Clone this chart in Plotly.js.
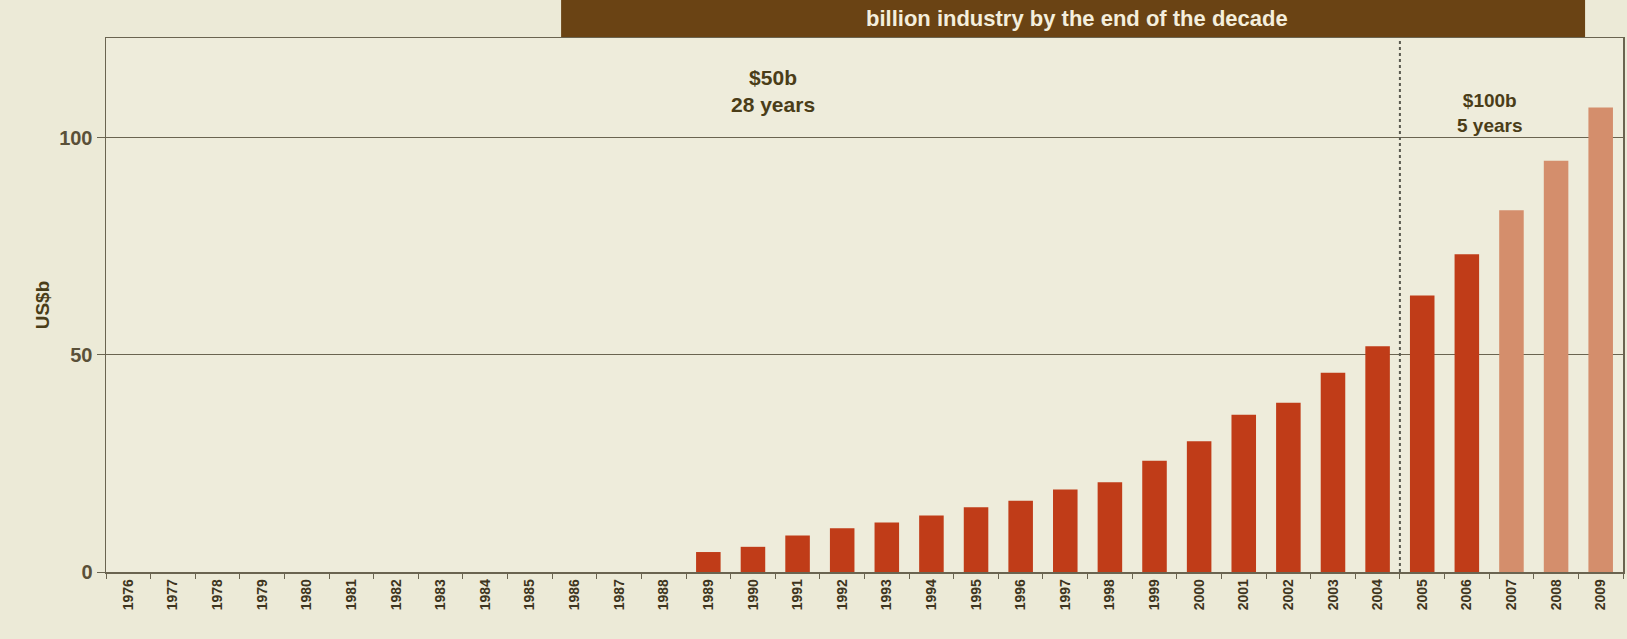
<!DOCTYPE html>
<html>
<head>
<meta charset="utf-8">
<script src="https://cdn.plot.ly/plotly-3.0.1.min.js"></script>
<style>
  html, body { margin: 0; padding: 0; background: #ECEAD7; }
  #chart { width: 1627px; height: 639px; }
</style>
</head>
<body>
<div id="chart"></div>
<script>
// Years on the category axis
const years = ["1976","1977","1978","1979","1980","1981","1982","1983","1984","1985","1986","1987","1988",
  "1989","1990","1991","1992","1993","1994","1995","1996","1997","1998","1999","2000","2001","2002",
  "2003","2004","2005","2006","2007","2008","2009"];
// Actual values (US$b); 1976-1988 have no visible bar
const actualYears = ["1989","1990","1991","1992","1993","1994","1995","1996","1997","1998","1999",
  "2000","2001","2002","2003","2004","2005","2006"];
const actualValues = [4.6, 5.8, 8.4, 10.1, 11.4, 13.0, 14.9, 16.4, 19.0, 20.7, 25.6,
  30.1, 36.2, 39.0, 45.9, 52.0, 63.7, 73.2];
// Forecast values (lighter bars)
const forecastYears = ["2007","2008","2009"];
const forecastValues = [83.3, 94.7, 107.0];
const yTicks = [0, 50, 100];
const bannerText = "billion industry by the end of the decade";
const leftNote = "<b>$50b<br>28 years</b>";
const rightNote = "<b>$100b<br>5 years</b>";
const yTitle = "US$b";

// Spread each series over the full year list so every year keeps its slot
function fullSeries(xs, vs) {
  return years.map(y => { const i = xs.indexOf(y); return i >= 0 ? vs[i] : null; });
}

const textCol = "#4A3D18";
const traces = [
  { type: "bar", x: years, y: fullSeries(actualYears, actualValues), marker: { color: "#C03C18" }, hoverinfo: "x+y" },
  { type: "bar", x: years, y: fullSeries(forecastYears, forecastValues), marker: { color: "#D48E6C" }, hoverinfo: "x+y" }
];

const layout = {
  width: 1627, height: 639,
  margin: { l: 106, r: 4, t: 38, b: 67 },
  paper_bgcolor: "#ECEAD7",
  plot_bgcolor: "#EEECDB",
  showlegend: false,
  barmode: "overlay",
  bargap: 0.45,
  font: { family: "Liberation Sans, Arial, sans-serif", color: textCol },
  xaxis: {
    type: "category",
    categoryorder: "array",
    categoryarray: years,
    tickvals: years,
    ticktext: years.map(y => "<b>" + y + "</b>"),
    tickangle: -90,
    tickfont: { size: 14, color: "#3E3520", family: "Liberation Sans, Arial, sans-serif" },
    ticks: "outside", tickson: "boundaries", ticklen: 5, tickcolor: "#6A6450",
    showline: true, linecolor: "#6A6450", linewidth: 1.5, mirror: true,
    showgrid: false, fixedrange: true
  },
  yaxis: {
    range: [0, 123],
    tickvals: yTicks,
    ticktext: yTicks.map(v => "<b>" + v + "</b>"),
    tickfont: { size: 20, color: "#5A5038" },
    ticks: "outside", ticklen: 8, tickcolor: "#6A6450",
    showline: true, linecolor: "#6A6450", linewidth: 1.5, mirror: true,
    showgrid: true, gridcolor: "#6A6450", gridwidth: 1,
    zeroline: false,
    title: { text: "<b>" + yTitle + "</b>", font: { size: 19, color: "#4A3D18" }, standoff: 4 },
    fixedrange: true
  },
  shapes: [
    { type: "rect", xref: "paper", yref: "paper", x0: 0.3, x1: 0.975, y0: 1.0, y1: 1.071,
      fillcolor: "#6A4314", line: { width: 0 }, layer: "below" },
    { type: "line", xref: "x", yref: "paper", x0: 28.5, x1: 28.5, y0: 0, y1: 1,
      line: { color: "#5A5A50", width: 2, dash: "dot" } }
  ],
  annotations: [
    { xref: "paper", yref: "paper", x: 0.64, y: 1.036, text: "<b>" + bannerText + "</b>",
      showarrow: false, font: { size: 22, color: "#F4EEDC" }, xanchor: "center", yanchor: "middle" },
    { xref: "paper", yref: "paper", x: 0.44, y: 0.9, text: leftNote, showarrow: false,
      font: { size: 21, color: textCol }, align: "center", xanchor: "center", yanchor: "middle" },
    { xref: "paper", yref: "paper", x: 0.912, y: 0.86, text: rightNote, showarrow: false,
      font: { size: 19, color: textCol }, align: "center", xanchor: "center", yanchor: "middle" }
  ]
};

Plotly.newPlot("chart", traces, layout, { displayModeBar: false, staticPlot: true });
</script>
</body>
</html>
